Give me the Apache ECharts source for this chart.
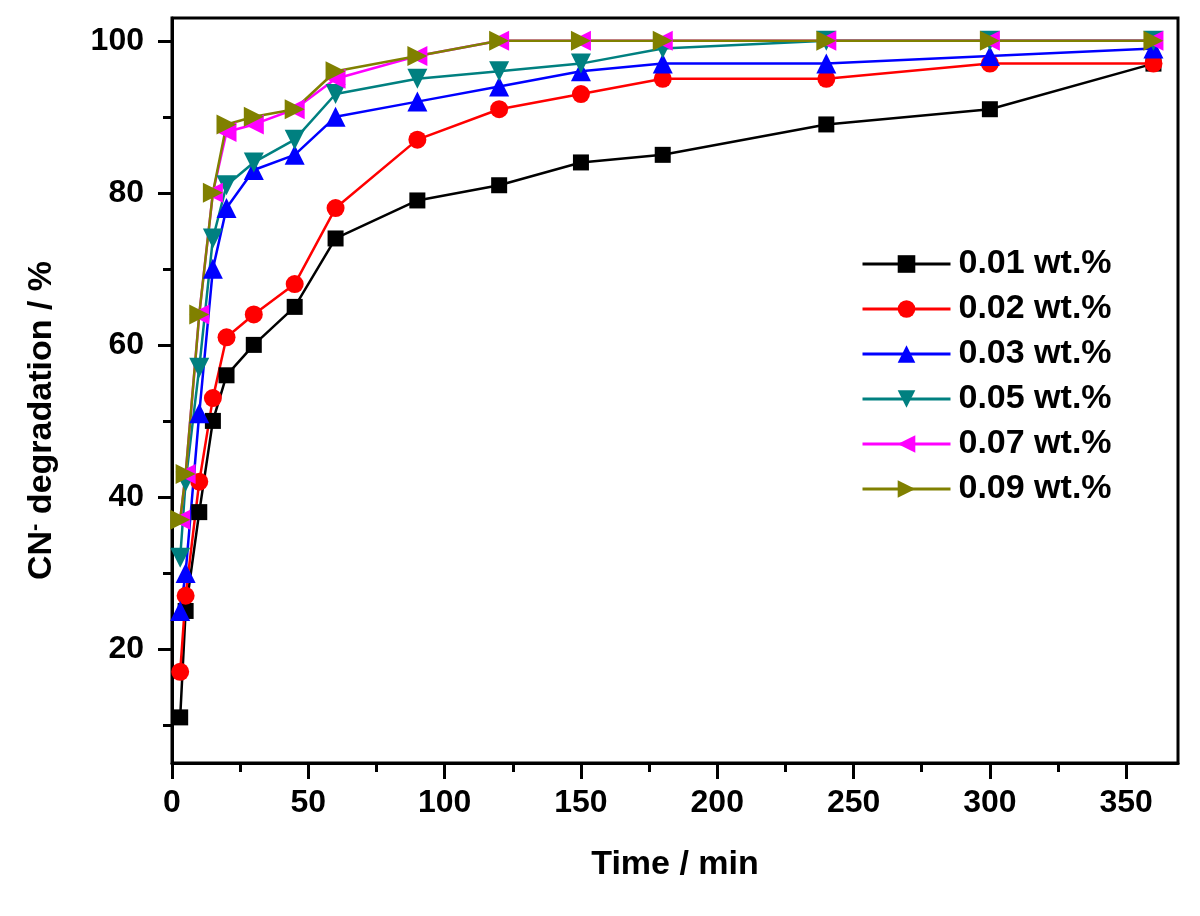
<!DOCTYPE html>
<html>
<head>
<meta charset="utf-8">
<script src="https://cdn.jsdelivr.net/npm/echarts@6/dist/echarts.min.js"></script>
<style>
html,body{margin:0;padding:0;background:#fff;}
#chart{width:1200px;height:916px;}
</style>
</head>
<body>
<div id="chart"></div>
<script>
var times = [3, 5, 10, 15, 20, 30, 45, 60, 90, 120, 150, 180, 240, 300, 360];
var s001 = [11, 25, 38, 50, 56, 60, 65, 74, 79, 81, 84, 85, 89, 91, 97];
var s002 = [17, 27, 42, 53, 61, 64, 68, 78, 87, 91, 93, 95, 95, 97, 97];
var s003 = [25, 30, 51, 70, 78, 83, 85, 90, 92, 94, 96, 97, 97, 98, 99];
var s005 = [32, 42, 57, 74, 81, 84, 87, 93, 95, 96, 97, 99, 100, 100, 100];
var s007 = [37, 43, 64, 80, 88, 89, 91, 95, 98, 100, 100, 100, 100, 100, 100];
var s009 = [37, 43, 64, 80, 89, 90, 91, 96, 98, 100, 100, 100, 100, 100, 100];
var seriesNames = ['0.01 wt.%', '0.02 wt.%', '0.03 wt.%', '0.05 wt.%', '0.07 wt.%', '0.09 wt.%'];
var yMajorTicks = [20, 40, 60, 80, 100];
var yMinorTicks = [10, 30, 50, 70, 90];
var xTicks = [0, 50, 100, 150, 200, 250, 300, 350];

var FONT = '"Liberation Sans", Arial, sans-serif';
function pairs(ys) { return times.map(function (t, i) { return [t, ys[i]]; }); }

var styles = [
  { color: '#000000', symbol: 'rect', size: 16, rotate: 0 },
  { color: '#ff0000', symbol: 'circle', size: 18, rotate: 0 },
  { color: '#0000ff', symbol: 'triangle', size: 20, rotate: 0 },
  { color: '#008080', symbol: 'triangle', size: 20, rotate: 180 },
  { color: '#ff00ff', symbol: 'triangle', size: 20, rotate: 90 },
  { color: '#808000', symbol: 'triangle', size: 20, rotate: -90 }
];
var allData = [s001, s002, s003, s005, s007, s009];

var series = allData.map(function (d, i) {
  var st = styles[i];
  return {
    name: seriesNames[i],
    type: 'line',
    data: pairs(d),
    symbol: st.symbol,
    symbolSize: st.size,
    symbolRotate: st.rotate,
    showAllSymbol: true,
    clip: false,
    lineStyle: { color: st.color, width: 2.5 },
    itemStyle: { color: st.color },
    emphasis: { disabled: true },
    animation: false
  };
});

var chart = echarts.init(document.getElementById('chart'), null, { renderer: 'canvas' });
chart.setOption({
  animation: false,
  backgroundColor: '#ffffff',
  grid: { left: 172, right: 22, top: 18, bottom: 153, show: true, borderColor: '#000', borderWidth: 3, backgroundColor: 'transparent' },
  legend: {
    orient: 'vertical',
    left: 856,
    top: 242,
    itemWidth: 88,
    itemHeight: 22,
    itemGap: 11,
    symbolRotate: 'inherit',
    lineStyle: { width: 3 },
    textStyle: { fontFamily: FONT, fontWeight: 'bold', fontSize: 34, color: '#000', lineHeight: 33, padding: [0, 0, 0, 3] },
    data: seriesNames
  },
  xAxis: {
    type: 'value',
    min: 0,
    max: 369,
    interval: 50,
    name: 'Time / min',
    nameLocation: 'middle',
    nameGap: 85,
    nameTextStyle: { fontFamily: FONT, fontWeight: 'bold', fontSize: 34, color: '#000' },
    axisLine: { show: true, lineStyle: { color: '#000', width: 3 } },
    axisTick: { show: true, inside: false, length: 16, lineStyle: { color: '#000', width: 3 }, customValues: xTicks },
    minorTick: { show: true, splitNumber: 2, length: 9, lineStyle: { color: '#000', width: 3 } },
    axisLabel: { fontFamily: FONT, fontWeight: 'bold', fontSize: 32, color: '#000', margin: 24, customValues: xTicks },
    splitLine: { show: false }
  },
  yAxis: [{
    type: 'value',
    min: 5,
    max: 103,
    name: '{a|CN}{s|-}{a| degradation / %}',
    nameLocation: 'middle',
    nameGap: 112,
    nameRotate: 90,
    nameTextStyle: {
      padding: [0, 60, 0, 0],
      rich: {
        a: { fontFamily: FONT, fontWeight: 'bold', fontSize: 34, color: '#000' },
        s: { fontFamily: FONT, fontWeight: 'bold', fontSize: 22, color: '#000', verticalAlign: 'top', padding: [0, 0, 14, 0] }
      }
    },
    axisLine: { show: true, lineStyle: { color: '#000', width: 3 } },
    axisTick: { show: true, inside: false, length: 14, lineStyle: { color: '#000', width: 3 }, customValues: yMajorTicks },
    axisLabel: { fontFamily: FONT, fontWeight: 'bold', fontSize: 32, color: '#000', margin: 28, customValues: yMajorTicks },
    splitLine: { show: false }
  }, {
    type: 'value',
    position: 'left',
    min: 5,
    max: 103,
    axisLine: { show: false },
    axisTick: { show: true, inside: false, length: 9, lineStyle: { color: '#000', width: 3 }, customValues: yMinorTicks },
    axisLabel: { show: false },
    splitLine: { show: false }
  }],
  series: series
});
</script>
</body>
</html>
